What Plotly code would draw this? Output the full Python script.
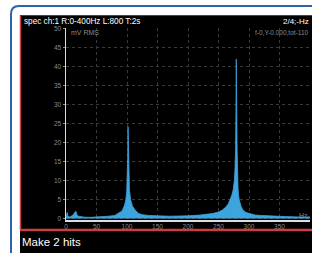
import plotly.graph_objects as go

# ---- data ----
freq_hz = [0, 1, 2, 3, 4, 6, 8, 10, 12, 14, 15, 16, 17, 18, 20, 25, 30, 40, 50, 60,
           70, 80, 88, 92, 96, 98, 99.5, 100.5, 101.2, 101.7, 102.3, 103, 104, 106, 109,
           113, 118, 125, 135, 150, 170, 200, 220, 240, 250, 256, 262, 266, 269, 272,
           274, 276, 277, 278, 278.6, 279.2, 279.8, 280.5, 281, 282, 283, 284, 287, 290,
           295, 302, 310, 320, 340, 360, 380, 400]
amp_mv = [0.3, 1.2, 1.6, 0.6, 0.5, 0.4, 0.5, 0.7, 1.0, 1.5, 1.8, 1.9, 1.6, 1.0, 0.6, 0.4, 0.35, 0.3, 0.35, 0.4,
          0.6, 0.8, 1.5, 2.0, 3.5, 4.9, 7.0, 11.0, 16.0, 24.2, 17.0, 11.0, 7.5, 4.9, 3.2,
          2.3, 1.4, 1.0, 0.8, 0.7, 0.6, 0.7, 0.9, 1.3, 1.7, 2.2, 3.0, 3.8, 4.9, 6.2,
          7.5, 10.0, 13.0, 18.0, 28.0, 42.0, 30.0, 18.0, 12.0, 8.0, 6.0, 4.9, 3.2, 2.2,
          1.6, 1.2, 0.9, 0.8, 0.6, 0.5, 0.4, 0.4]

x_ticks = [0, 50, 100, 150, 200, 250, 300, 350, 400]
x_tick_text = ["0", "50", "100", "150", "200", "250", "300", "350", "400"]
y_ticks = [0, 5, 10, 15, 20, 25, 30, 35, 40, 45, 50]
y_tick_text = ["0", "5", "10", "15", "20", "25", "30", "35", "40", "45", "50"]

title_text = "spec ch:1 R:0-400Hz L:800 T:2s"
right_text = "2/4;-Hz"
cursor_text = "f-0,Y-0.000,tot-110"
unit_text = "mV RMS"
x_unit_text = "Hz"
caption_text = "Make 2 hits"

# ---- geometry (target pixels) ----
W, H = 312, 253
ML, MR, MT, MB = 66, 2, 28, 33
PW, PH = W - ML - MR, H - MT - MB


def xp(px):
    return (px - ML) / PW


def yp(py):
    return 1 - (py - MT) / PH


FONT = "Arial, Liberation Sans, sans-serif"
BLUE = "#2b63ae"
RED = "#c8403f"
FILL = "#3da5de"
GREY = "#8a8a8a"
GRID = "#3a3a3a"

# pad the last tick label so it stays inside the window, like the original
ticktext_x = list(x_tick_text)
ticktext_x[-1] = ticktext_x[-1] + "\u00a0" * 7

fig = go.Figure()
fig.add_trace(go.Scatter(
    x=freq_hz, y=amp_mv, mode="lines", fill="tozeroy",
    line=dict(color=FILL, width=0.8), fillcolor=FILL, hoverinfo="skip",
))

shapes = []
r = 8
x0, y0, x1, y1 = xp(11), yp(6), xp(340), yp(280)
rx = r / PW
ry = r / PH
shapes.append(dict(
    type="path", xref="paper", yref="paper",
    path=f"M {x0},{y1} L {x0},{y0 - ry} Q {x0},{y0} {x0 + rx},{y0} L {x1},{y0}",
    line=dict(color=BLUE, width=2), layer="below"))
shapes.append(dict(type="rect", xref="paper", yref="paper",
                   x0=xp(20), x1=xp(340), y0=yp(253), y1=yp(15),
                   fillcolor="black", line=dict(width=0), layer="below"))
shapes.append(dict(type="line", xref="paper", yref="paper",
                   x0=xp(20.5), x1=xp(20.5), y0=yp(230), y1=yp(15),
                   line=dict(color=RED, width=1.5), layer="below"))
shapes.append(dict(type="line", xref="paper", yref="paper",
                   x0=xp(20), x1=xp(340), y0=yp(15.5), y1=yp(15.5),
                   line=dict(color="#7a2e30", width=1), layer="below"))
shapes.append(dict(type="line", xref="paper", yref="paper",
                   x0=xp(20), x1=xp(340), y0=yp(230), y1=yp(230),
                   line=dict(color=RED, width=2.5), layer="above"))

annotations = [
    dict(text=title_text, xref="paper", yref="paper", x=xp(22), y=yp(21.5),
         xanchor="left", yanchor="middle", showarrow=False,
         font=dict(family=FONT, size=8.2, color="white")),
    dict(text=right_text, xref="paper", yref="paper", x=xp(311), y=yp(21.5),
         xanchor="right", yanchor="middle", showarrow=False,
         font=dict(family=FONT, size=8, color="white")),
    dict(text=cursor_text, xref="paper", yref="paper", x=xp(311), y=yp(32),
         xanchor="right", yanchor="middle", showarrow=False,
         font=dict(family=FONT, size=6.5, color=GREY)),
    dict(text=unit_text, xref="paper", yref="paper", x=xp(69), y=yp(32.5),
         xanchor="left", yanchor="middle", showarrow=False,
         font=dict(family=FONT, size=7, color=GREY)),
    dict(text=x_unit_text, xref="paper", yref="paper", x=xp(310), y=yp(215),
         xanchor="right", yanchor="middle", showarrow=False,
         font=dict(family=FONT, size=7, color=GREY)),
    dict(text=caption_text, xref="paper", yref="paper", x=xp(20), y=yp(242),
         xanchor="left", yanchor="middle", showarrow=False,
         font=dict(family=FONT, size=11.5, color="white")),
]

fig.update_layout(
    width=W, height=H,
    margin=dict(l=ML, r=MR, t=MT, b=MB, pad=0),
    paper_bgcolor="white", plot_bgcolor="black",
    showlegend=False, shapes=shapes, annotations=annotations,
    font=dict(family=FONT),
)
fig.update_xaxes(
    range=[0, 400], tickvals=x_ticks, ticktext=ticktext_x,
    showline=True, linecolor="#dddddd", linewidth=1.5,
    showgrid=True, gridcolor=GRID, griddash="dot", gridwidth=1,
    zeroline=False, ticks="", tickfont=dict(family=FONT, size=6.5, color=GREY),
)
fig.update_yaxes(
    range=[-0.4, 50.2], tickvals=y_ticks, ticktext=y_tick_text,
    showline=True, linecolor="#dddddd", linewidth=1.5,
    showgrid=True, gridcolor=GRID, griddash="dot", gridwidth=1,
    zeroline=False, ticks="outside", ticklen=2, tickcolor=GREY,
    tickfont=dict(family=FONT, size=6.5, color=GREY),
)

fig.write_html(
    "out.html",
    config={"displayModeBar": False, "staticPlot": True},
    post_script="document.body.style.margin='0';document.documentElement.style.margin='0';",
)
